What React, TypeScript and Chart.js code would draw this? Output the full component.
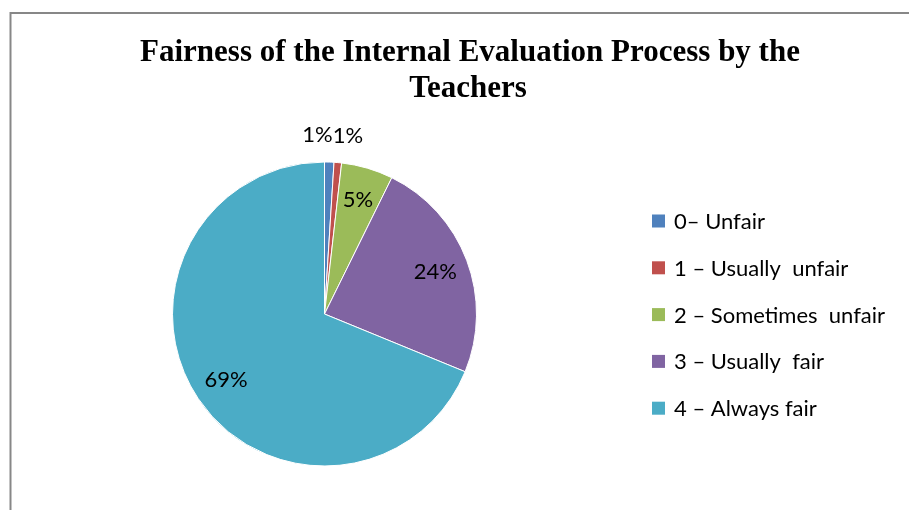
import React, { useEffect, useRef } from "react";
import { Chart, registerables } from "chart.js";

Chart.register(...registerables);

const TITLE_LINES = ["Fairness of the Internal Evaluation Process by the", "Teachers"];
const CATEGORIES = ["0– Unfair", "1 – Usually  unfair", "2 – Sometimes  unfair", "3 – Usually  fair", "4 – Always fair"];
const VALUES = [1.0, 0.8, 5.5, 23.9, 68.8];
const LABELS = ["1%", "1%", "5%", "24%", "69%"];
const COLORS = ["#4F81BD", "#C0504D", "#9BBB59", "#8064A2", "#4BACC6"];

const LABEL_FONT = "22px Lato, 'Open Sans', sans-serif";

const framePlugin = {
  id: "frame",
  beforeDraw(chart: any) {
    const ctx = chart.ctx;
    ctx.save();
    ctx.fillStyle = "#ffffff";
    ctx.fillRect(0, 0, chart.width, chart.height);
    ctx.strokeStyle = "#878787";
    ctx.lineWidth = 2;
    ctx.beginPath();
    ctx.moveTo(10.5, chart.height + 5);
    ctx.lineTo(10.5, 13);
    ctx.lineTo(chart.width + 5, 13);
    ctx.stroke();
    // title
    ctx.fillStyle = "#000000";
    ctx.font = "bold 31px 'Liberation Serif', 'Times New Roman', serif";
    ctx.textAlign = "center";
    ctx.textBaseline = "middle";
    ctx.fillText(TITLE_LINES[0], 470, 53);
    ctx.fillText(TITLE_LINES[1], 468, 89);
    ctx.restore();
  },
};

const labelsPlugin = {
  id: "sliceLabels",
  afterDatasetsDraw(chart: any) {
    const ctx = chart.ctx;
    const meta = chart.getDatasetMeta(0);
    const total = VALUES.reduce((a, b) => a + b, 0);
    const small = VALUES.map((v) => v / total < 0.03);
    ctx.save();
    ctx.font = LABEL_FONT;
    ctx.fillStyle = "#000000";
    ctx.textBaseline = "middle";
    meta.data.forEach((arc: any, i: number) => {
      const { x, y, startAngle, endAngle, outerRadius } = arc.getProps(
        ["x", "y", "startAngle", "endAngle", "outerRadius"],
        true
      );
      const mid = (startAngle + endAngle) / 2;
      if (small[i]) {
        const r = outerRadius + 27;
        let ang = mid;
        let align: CanvasTextAlign = "center";
        if (i + 1 < VALUES.length && small[i + 1]) {
          ang = endAngle;
          align = "right";
        } else if (i > 0 && small[i - 1]) {
          ang = startAngle;
          align = "left";
        }
        ctx.textAlign = align;
        ctx.fillText(LABELS[i], x + Math.cos(ang) * r - 3, y + Math.sin(mid) * r);
      } else {
        const r = outerRadius * 0.78;
        ctx.textAlign = "center";
        ctx.fillText(LABELS[i], x + Math.cos(mid) * r, y + Math.sin(mid) * r);
      }
    });
    ctx.restore();
  },
};

const legendPlugin = {
  id: "customLegend",
  afterDraw(chart: any) {
    const ctx = chart.ctx;
    ctx.save();
    ctx.font = LABEL_FONT;
    ctx.textAlign = "left";
    ctx.textBaseline = "middle";
    const x0 = 652;
    const y0 = 221;
    const step = 46.8;
    CATEGORIES.forEach((c, i) => {
      const cy = y0 + i * step;
      ctx.fillStyle = COLORS[i];
      ctx.fillRect(x0, cy - 6.5, 13, 13);
      ctx.fillStyle = "#000000";
      ctx.fillText(c, x0 + 22, cy + 1);
    });
    ctx.restore();
  },
};

export default function App() {
  const ref = useRef<HTMLCanvasElement | null>(null);
  useEffect(() => {
    document.body.style.margin = "0";
    if (!ref.current) return;
    const chart = new Chart(ref.current, {
      type: "pie",
      data: {
        labels: CATEGORIES,
        datasets: [
          {
            data: VALUES,
            backgroundColor: COLORS,
            borderColor: "#ffffff",
            borderWidth: 1,
          },
        ],
      },
      options: {
        responsive: false,
        animation: false,
        devicePixelRatio: 1,
        layout: { padding: { left: 172, right: 432, top: 161, bottom: 43 } },
        plugins: {
          legend: { display: false },
          title: { display: false },
          tooltip: { enabled: false },
        },
      },
      plugins: [framePlugin, labelsPlugin, legendPlugin],
    });
    return () => chart.destroy();
  }, []);
  return (
    <div style={{ position: "absolute", left: 0, top: 0, width: 909, height: 510 }}>
      <canvas ref={ref} width={909} height={510} />
    </div>
  );
}
